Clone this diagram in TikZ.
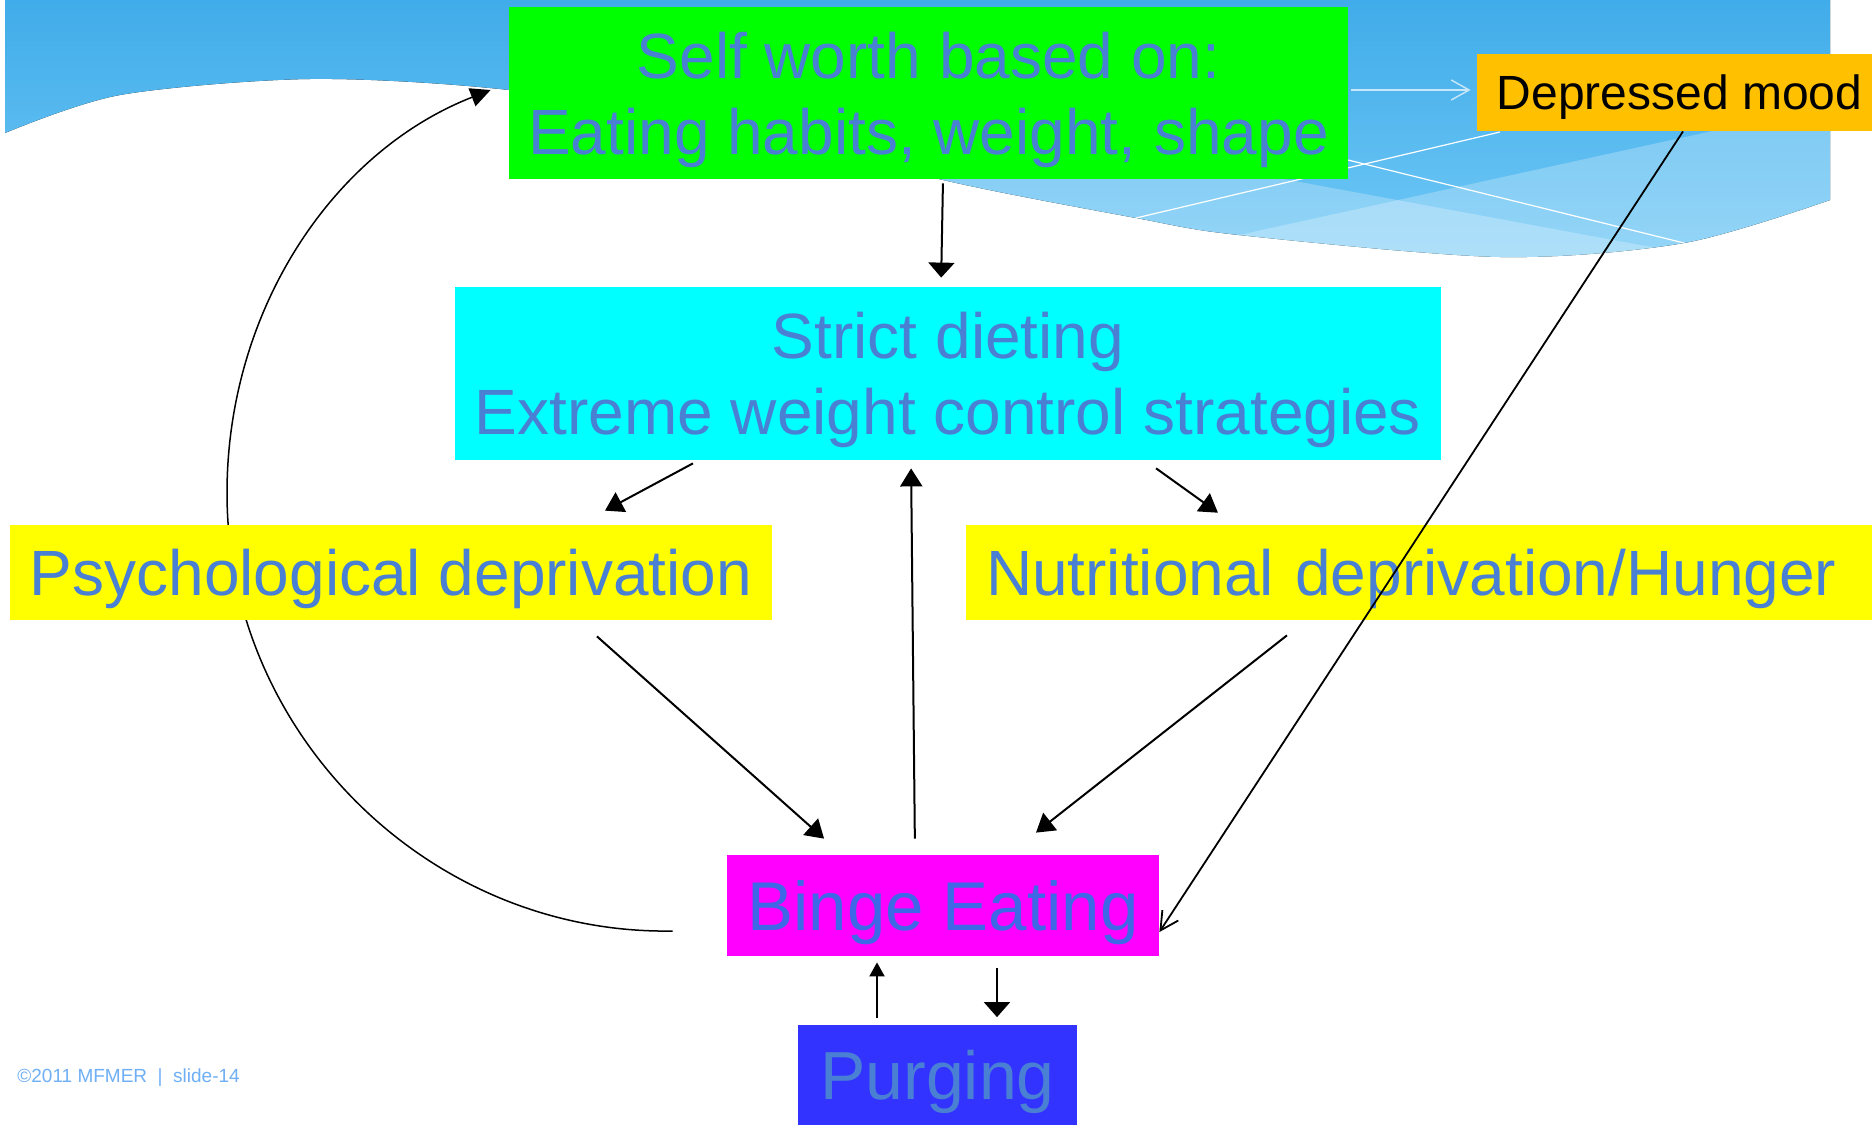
\documentclass[tikz,border=0pt]{standalone}
\usepackage{fontspec}
\setmainfont{Liberation Sans}
\usetikzlibrary{arrows.meta}
\definecolor{skytop}{RGB}{64,172,233}
\definecolor{skybot}{RGB}{112,200,246}
\definecolor{textblue}{RGB}{74,128,212}
\definecolor{bingetext}{RGB}{62,104,230}
\definecolor{worthgreen}{RGB}{0,255,0}
\definecolor{dietcyan}{RGB}{0,255,255}
\definecolor{deprivyellow}{RGB}{255,255,0}
\definecolor{bingemagenta}{RGB}{255,0,255}
\definecolor{moodorange}{RGB}{255,192,0}
\definecolor{purgeblue}{RGB}{51,51,255}
\definecolor{footblue}{RGB}{110,175,245}
\definecolor{lightarrow}{RGB}{200,232,250}
\pgfdeclarelayer{back}
\pgfdeclarelayer{mid}
\pgfsetlayers{back,mid,main}

\begin{document}
\begin{tikzpicture}
  [x=0.5pt,y=-0.5pt,
   box/.style={rectangle,inner sep=0pt,align=center,text depth=0pt,text=textblue,font=\fontsize{32}{38}\selectfont},
   arr/.style={line width=1pt,-{Triangle[width=11pt,length=9pt]}},
   smallarr/.style={line width=1pt,-{Triangle[width=7.5pt,length=7pt]}},
   widearr/.style={line width=1pt,-{Triangle[width=13pt,length=7.5pt]}},
   curvearr/.style={line width=0.75pt,-{Triangle[width=9.5pt,length=10pt]}},
   barbline/.style={line width=0.9pt,-{Straight Barb[length=9pt,width=9.5pt]}},
   lightline/.style={lightarrow,line width=0.7pt,-{Straight Barb[length=9pt,width=10pt]}}]
  \useasboundingbox (0,0) rectangle (1872,1124);

  % slide background
  \begin{pgfonlayer}{back}
    \fill[white] (0,0) rectangle (1872,1124);
    \fill[top color=skytop,bottom color=skybot] (5,0) -- (1830,0) -- plot[smooth] coordinates
      {(1830,200) (1684,243) (1500,257) (1239,235) (1136,218) (943,180) (750,128) (509,90) (310,79) (120,95) (5,133)} -- cycle;
    \begin{scope}
      \clip (5,0) -- (1830,0) -- plot[smooth] coordinates
        {(1830,200) (1684,243) (1500,257) (1239,235) (1136,218) (943,180) (750,128) (509,90) (310,79) (120,95) (5,133)} -- cycle;
      \fill[white,opacity=.25] (900,108) -- (1289,180) -- (1840,282) -- (1840,320) -- (900,320) -- cycle;
      \fill[white,opacity=.25] (900,309) -- (1239,235) -- (1840,103) -- (1840,320) -- cycle;
    \end{scope}
    \draw[white,line width=0.6pt] (1136,218) -- (1500,132) (1348,160) -- (1684,243);
  \end{pgfonlayer}

  \node[box,fill=worthgreen,minimum width=419.5pt,minimum height=86pt] (worth) at (928.5,93) {Self worth based on:\\Eating habits, weight, shape};
  \node[box,fill=dietcyan,minimum width=493pt,minimum height=86.5pt] (diet) at (948,373.5) {Strict dieting\\Extreme weight control strategies};
  \node[box,fill=deprivyellow,minimum width=381pt,minimum height=47.5pt] (psych) at (391,572.5) {Psychological deprivation};
  \node[box,fill=deprivyellow,text width=433pt,inner xsep=10pt,align=left,minimum height=47.5pt] (hunger) at (1419,572.5) {Nutritional deprivation/Hunger};
  \node[box,fill=bingemagenta,text=bingetext,minimum width=216pt,minimum height=50.5pt,font=\fontsize{34.5}{40}\selectfont] (binge) at (943,905.5) {Binge Eating};
  \node[box,fill=purgeblue,minimum width=139.5pt,minimum height=50pt,font=\fontsize{34}{40}\selectfont] (purge) at (937.5,1074.5) {Purging};
  \node[fill=moodorange,inner sep=0pt,text depth=0pt,minimum width=202.5pt,minimum height=38.5pt,font=\fontsize{24}{28}\selectfont] (mood) at (1679.5,92.5) {Depressed mood};
  \node[anchor=west,inner sep=0pt,text=footblue,font=\fontsize{9.5}{11}\selectfont] (foot) at (17,1078) {©2011 MFMER\ \ |\ \ slide-14};

  \draw[widearr,shorten <=2pt,shorten >=4.5pt] ([xshift=7.25pt]worth.south) -- ([xshift=-3.5pt]diet.north);
  \draw[arr,shorten <=3.15pt,shorten >=14.75pt] ([xshift=-124.75pt]diet.south) -- ([xshift=94pt]psych.north);
  \draw[arr,shorten <=6.8pt,shorten >=10.2pt] ([xshift=98.5pt]diet.south) -- ([xshift=-92.25pt]hunger.north);
  \draw[arr,shorten <=12pt,shorten >=12pt] ([xshift=94pt]psych.south) -- ([xshift=-50.5pt]binge.north);
  \draw[arr,shorten <=12.1pt,shorten >=17.8pt] ([xshift=-56.5pt]hunger.south) -- ([xshift=32.5pt]binge.north);
  \draw[arr,shorten <=8pt,shorten >=4pt] ([xshift=-14pt]binge.north) -- ([xshift=-18.5pt]diet.south);
  \draw[smallarr,shorten <=3pt,shorten >=3pt] ([xshift=-30.25pt]purge.north) -- ([xshift=-33pt]binge.south);
  \draw[widearr,shorten <=6pt,shorten >=3.5pt] ([xshift=27pt]binge.south) -- ([xshift=29.75pt]purge.north);

  \draw[barbline] ([xshift=1.75pt]mood.south) -- ([yshift=-13.25pt]binge.east);
  \draw[lightline,shorten <=1.5pt,shorten >=3pt] ([yshift=1.5pt]worth.east) -- ([yshift=1.25pt]mood.west);

  % loop back from binge eating, behind the yellow box
  \begin{pgfonlayer}{mid}
    \draw[curvearr] ([xshift=-27pt,yshift=-12.75pt]binge.west) .. controls (430,935) and (227,735) .. (227,493)
      .. controls (227,311) and (332,152) .. ([xshift=-9pt,yshift=1.5pt]worth.west);
  \end{pgfonlayer}
\end{tikzpicture}
\end{document}
